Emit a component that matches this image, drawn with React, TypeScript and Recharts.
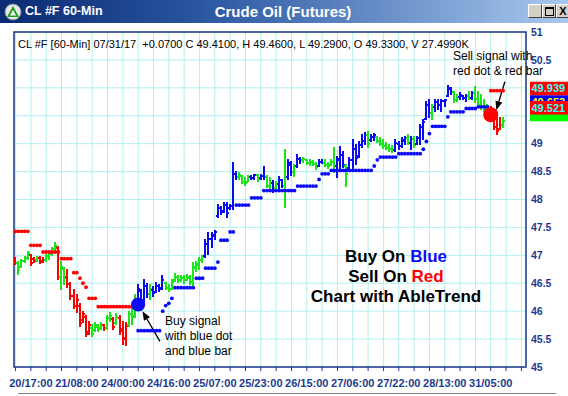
import React from 'react';
import {
  ComposedChart,
  Bar,
  Line,
  XAxis,
  YAxis,
  CartesianGrid,
  ReferenceArea,
  ReferenceLine,
} from 'recharts';

const _ = null;

const highs = [
  46.96, 46.89, 46.93, 46.98, 47.07, 47.02, 46.96, 46.98, 46.98, 46.96,
  47.02, 47.07, 47.14, 47.23, 47.16, 46.89, 46.79, 46.75, 46.52, 46.38,
  46.29, 46.13, 46.0, 45.93, 45.82, 45.77, 45.8, 45.77, 45.79, 45.77,
  45.93, 45.98, 45.89, 45.95, 45.93, 45.82, 45.8, 46.0, 46.13, 46.29,
  46.48, 46.39, 46.57, 46.5, 46.48, 46.45, 46.52, 46.48, 46.63, 46.52,
  46.48, 46.57, 46.68, 46.64, 46.63, 46.63, 46.66, 46.64, 46.88, 46.89,
  46.96, 47.0, 47.29, 47.41, 47.41, 47.45, 47.91, 47.88, 47.95, 47.95,
  47.91, 48.66, 48.5, 48.48, 48.43, 48.39, 48.43, 48.43, 48.45, 48.45,
  48.45, 48.59, 48.43, 48.39, 48.34, 48.32, 48.41, 48.36, 48.89, 48.71,
  48.68, 48.63, 48.8, 48.75, 48.75, 48.71, 48.71, 48.7, 48.66, 48.71,
  48.71, 48.71, 48.66, 48.71, 48.93, 48.77, 48.95, 48.86, 48.63, 48.75,
  49.07, 48.98, 49.04, 49.16, 49.2, 49.21, 49.16, 49.18, 49.13, 49.11,
  49.07, 49.02, 48.98, 48.96, 49.07, 49.04, 49.11, 49.13, 49.16, 49.13,
  49.13, 49.13, 49.34, 49.43, 49.75, 49.79, 49.7, 49.79, 49.79, 49.79,
  49.8, 50.05, 50.0, 49.93, 49.88, 49.91, 49.86, 49.88, 49.93, 49.93,
  50.02, 49.93, 49.88, 49.79, 49.7, 49.66, 49.57, 49.52, 49.46, 49.46,
];

const lows = [
  46.84, 46.66, 46.79, 46.88, 46.93, 46.82, 46.88, 46.89, 46.86, 46.88,
  46.89, 46.93, 47.0, 47.07, 46.57, 46.39, 46.48, 46.43, 46.21, 46.04,
  45.98, 45.73, 45.8, 45.54, 45.59, 45.55, 45.64, 45.64, 45.68, 45.66,
  45.68, 45.82, 45.68, 45.77, 45.59, 45.41, 45.38, 45.73, 45.77, 45.89,
  46.04, 46.09, 46.18, 46.25, 46.21, 46.27, 46.34, 46.36, 46.39, 46.39,
  46.36, 46.39, 46.54, 46.52, 46.54, 46.5, 46.55, 46.48, 46.45, 46.71,
  46.75, 46.88, 46.96, 47.02, 47.14, 47.29, 47.68, 47.73, 47.77, 47.68,
  47.82, 47.82, 48.36, 48.36, 48.29, 48.25, 48.32, 48.36, 48.36, 48.32,
  48.36, 48.36, 48.21, 48.14, 48.13, 48.14, 48.18, 48.21, 47.86, 48.36,
  48.43, 48.41, 48.57, 48.64, 48.66, 48.63, 48.61, 48.61, 48.54, 48.59,
  48.64, 48.59, 48.55, 48.61, 48.48, 48.39, 48.54, 48.57, 48.23, 48.54,
  48.54, 48.63, 48.75, 48.93, 48.98, 48.93, 49.04, 49.05, 49.02, 48.96,
  48.91, 48.89, 48.86, 48.84, 48.86, 48.89, 48.93, 48.98, 48.98, 48.89,
  48.93, 48.98, 48.98, 49.07, 49.43, 49.46, 49.43, 49.57, 49.61, 49.57,
  49.66, 49.84, 49.88, 49.73, 49.75, 49.79, 49.79, 49.75, 49.79, 49.79,
  49.73, 49.64, 49.61, 49.57, 49.52, 49.43, 49.25, 49.16, 49.25, 49.29,
];

const opens = [
  46.94, 46.86, 46.8, 46.9, 46.95, 47.0, 46.94, 46.91, 46.96, 46.9,
  46.92, 46.99, 47.03, 47.11, 47.14, 46.62, 46.75, 46.62, 46.48, 46.27,
  46.1, 46.1, 45.85, 45.9, 45.62, 45.7, 45.66, 45.72, 45.7, 45.75,
  45.7, 45.88, 45.86, 45.78, 45.88, 45.68, 45.52, 45.75, 45.95, 45.92,
  46.18, 46.36, 46.2, 46.45, 46.3, 46.38, 46.35, 46.45, 46.42, 46.5,
  46.42, 46.4, 46.56, 46.62, 46.56, 46.6, 46.56, 46.6, 46.52, 46.78,
  46.82, 46.92, 46.98, 47.2, 47.3, 47.35, 47.7, 47.85, 47.8, 47.9,
  47.84, 47.88, 48.45, 48.4, 48.42, 48.32, 48.32, 48.4, 48.38, 48.43,
  48.38, 48.42, 48.4, 48.25, 48.3, 48.2, 48.28, 48.35, 48.25, 48.4,
  48.62, 48.5, 48.6, 48.72, 48.7, 48.7, 48.66, 48.68, 48.64, 48.6,
  48.68, 48.66, 48.62, 48.62, 48.68, 48.6, 48.7, 48.8, 48.6, 48.56,
  48.7, 48.9, 48.78, 48.98, 49.05, 49.15, 49.06, 49.12, 49.12, 49.05,
  49.0, 48.95, 48.92, 48.9, 48.88, 49.0, 48.95, 49.05, 49.1, 49.02,
  49.08, 49.0, 49.1, 49.3, 49.45, 49.7, 49.55, 49.65, 49.75, 49.7,
  49.76, 49.86, 49.98, 49.92, 49.78, 49.84, 49.85, 49.82, 49.86, 49.82,
  49.9, 49.8, 49.7, 49.65, 49.62, 49.56, 49.48, 49.3, 49.26, 49.33,
];

const closes = [
  46.86, 46.74, 46.9, 46.95, 47.04, 46.86, 46.9, 46.96, 46.88, 46.92,
  46.99, 47.03, 47.11, 47.16, 46.62, 46.8, 46.6, 46.48, 46.27, 46.1,
  46.2, 45.78, 45.95, 45.6, 45.75, 45.6, 45.75, 45.68, 45.76, 45.7,
  45.88, 45.92, 45.72, 45.9, 45.65, 45.5, 45.74, 45.95, 45.9, 46.2,
  46.4, 46.15, 46.45, 46.3, 46.4, 46.32, 46.45, 46.4, 46.55, 46.42,
  46.4, 46.52, 46.62, 46.55, 46.6, 46.55, 46.62, 46.52, 46.8, 46.85,
  46.92, 46.97, 47.2, 47.3, 47.36, 47.42, 47.85, 47.78, 47.9, 47.75,
  47.88, 48.45, 48.4, 48.44, 48.32, 48.3, 48.4, 48.38, 48.43, 48.36,
  48.42, 48.4, 48.25, 48.3, 48.2, 48.28, 48.35, 48.25, 48.4, 48.65,
  48.5, 48.6, 48.72, 48.7, 48.72, 48.66, 48.68, 48.64, 48.58, 48.68,
  48.66, 48.62, 48.6, 48.68, 48.6, 48.72, 48.8, 48.62, 48.45, 48.7,
  48.9, 48.75, 48.98, 49.05, 49.15, 49.0, 49.12, 49.15, 49.05, 49.0,
  48.95, 48.92, 48.9, 48.88, 49.02, 48.95, 49.06, 49.1, 49.02, 49.08,
  48.98, 49.1, 49.3, 49.38, 49.7, 49.55, 49.65, 49.75, 49.7, 49.76,
  49.78, 50.0, 49.92, 49.78, 49.84, 49.88, 49.82, 49.86, 49.82, 49.9,
  49.8, 49.7, 49.65, 49.62, 49.56, 49.48, 49.3, 49.22, 49.33, 49.41,
];

// r = down trend (red), g = neutral (green), b = up trend (blue)
const barColors = (
  'rggggrrgrr' + 'ggggrggrrr' + 'rrrrrggggr' + 'ggrgrrrggg' +
  'bbbbgbbbbg' + 'gggggggggg' + 'ggbbbbbbbb' + 'bbbggggbbg' +
  'bbggbgbbgb' + 'bgbbgggggb' + 'bggggbbbgb' + 'bbbbbgbbgg' +
  'ggggbbbbgb' + 'gbbbbbgbbb' + 'bbbggbbbgb' + 'gggggrrrrg'
).split('');

const redStops = [
  47.43, 47.43, 47.43, 47.43, 47.43, 47.18, 47.18, 47.18, 47.18, 47.06,
  47.06, 47.06, 47.06, 47.06, 47.06, 46.94, 46.94, 46.94, 46.94, 46.69,
  46.69, 46.59, 46.5, 46.43, 46.23, 46.23, 46.23, 46.08, 46.08, 46.08,
  46.08, 46.08, 46.08, 46.08, 46.08, 46.08, 46.08, 46.08, 46.08, 46.08,
  _, _, _, _, _, _, _, _, _, _,
  _, _, _, _, _, _, _, _, _, _,
  _, _, _, _, _, _, _, _, _, _,
  _, _, _, _, _, _, _, _, _, _,
  _, _, _, _, _, _, _, _, _, _,
  _, _, _, _, _, _, _, _, _, _,
  _, _, _, _, _, _, _, _, _, _,
  _, _, _, _, _, _, _, _, _, _,
  _, _, _, _, _, _, _, _, _, _,
  _, _, _, _, _, _, _, _, _, _,
  _, _, _, _, _, _, _, _, _, _,
  _, _, _, _, _, 49.95, 49.95, 49.95, 49.95, 49.95,
];

const blueStops = [
  _, _, _, _, _, _, _, _, _, _,
  _, _, _, _, _, _, _, _, _, _,
  _, _, _, _, _, _, _, _, _, _,
  _, _, _, _, _, _, _, _, _, _,
  45.65, 45.65, 45.65, 45.65, 45.65, 45.65, 45.65, 45.65, 46.0, 46.1,
  46.14, 46.23, 46.42, 46.42, 46.42, 46.42, 46.42, 46.42, 46.42, 46.59,
  46.59, 46.59, 46.77, 46.77, 46.77, 46.77, 46.88, 47.27, 47.27, 47.27,
  47.42, 47.42, 47.9, 47.9, 47.9, 47.9, 47.9, 48.03, 48.03, 48.03,
  48.03, 48.16, 48.16, 48.16, 48.16, 48.16, 48.16, 48.16, 48.16, 48.16,
  48.16, 48.16, 48.24, 48.24, 48.24, 48.24, 48.24, 48.24, 48.24, 48.36,
  48.46, 48.46, 48.46, 48.52, 48.52, 48.52, 48.52, 48.52, 48.52, 48.52,
  48.52, 48.52, 48.52, 48.52, 48.52, 48.52, 48.52, 48.6, 48.71, 48.76,
  48.76, 48.76, 48.76, 48.76, 48.76, 48.82, 48.82, 48.82, 48.82, 48.82,
  48.82, 48.82, 48.82, 48.9, 49.04, 49.18, 49.31, 49.31, 49.31, 49.31,
  49.31, 49.48, 49.57, 49.57, 49.57, 49.57, 49.57, 49.63, 49.63, 49.63,
  49.63, 49.66, 49.66, 49.66, 49.66, _, _, _, _, _,
];

const tickLabels = [
  '20/17:00', '21/08:00', '24/00:00', '24/16:00', '25/07:00', '25/23:00',
  '26/15:00', '27/06:00', '27/22:00', '28/13:00', '31/05:00',
];
const tickBars = [5, 20, 35, 50, 65, 80, 95, 110, 125, 140, 155];
const gridBars = [
  0, 5, 10, 15, 20, 25, 30, 35, 40, 45, 50, 55, 60, 65, 70, 75, 80, 85,
  90, 95, 100, 105, 110, 115, 120, 125, 130, 135, 140, 145, 150, 155, 160, 165,
];
const yTicks = [45, 45.5, 46, 46.5, 47, 47.5, 48, 48.5, 49, 49.5, 50, 50.5, 51];

const buySignal = { bar: 40, price: 46.12 };
const sellSignal = { bar: 155, price: 49.52 };

const buyArrow = [{ x: 47.6, y: 45.46 }, { x: 41.9, y: 46.0 }];
const sellArrow = [{ x: 160.1, y: 50.11 }, { x: 157.3, y: 49.6 }];

// the green (last close) tag is hidden under the others in the reference, only its edge shows
const priceTagValues = [49.41, 49.653, 49.939, 49.521];
const priceTagTexts = ['', '49.653', '49.939', '49.521'];
const priceTagStyles = [
  { bg: '#00ff00', fg: '#00ff00', dy: -6.5 },
  { bg: '#0000ff', fg: '#ffff00', dy: -5.5 },
  { bg: '#ff0000', fg: '#40ffff', dy: -3 },
  { bg: '#ff0000', fg: '#40ffff', dy: -7 },
];

const COLORS: Record<string, string> = { r: '#ff0000', g: '#19e619', b: '#0a0af5' };
const FONT = "'Liberation Sans', Arial, sans-serif";
const AXIS_BLUE = '#1c3b8f';

const OhlcShape = (props: any) => {
  const { x, y, width, height, payload } = props;
  if (!payload || x == null || y == null) return null;
  const top = Math.min(y, y + height);
  const h = Math.abs(height);
  const { high, low, open, close, color } = payload;
  const range = high - low || 1;
  const yOf = (v: number) => top + ((high - v) / range) * h;
  const cx = x + width / 2;
  const col = COLORS[color];
  return (
    <g stroke={col} strokeWidth={2} shapeRendering="crispEdges">
      <line x1={cx} x2={cx} y1={top - 0.5} y2={top + h + 0.5} />
      <line x1={cx - 2} x2={cx} y1={yOf(open)} y2={yOf(open)} />
      <line x1={cx} x2={cx + 2} y1={yOf(close)} y2={yOf(close)} />
    </g>
  );
};

const ArrowShape = (p: any) => {
  const { x1, y1, x2, y2 } = p;
  if ([x1, y1, x2, y2].some((v) => typeof v !== 'number')) return null;
  const ang = Math.atan2(y2 - y1, x2 - x1);
  const L = 9;
  const W = 3.5;
  const bx = x2 - L * Math.cos(ang);
  const by = y2 - L * Math.sin(ang);
  const pts = `${x2},${y2} ${bx - W * Math.sin(ang)},${by + W * Math.cos(ang)} ${bx + W * Math.sin(ang)},${by - W * Math.cos(ang)}`;
  return (
    <g>
      <line x1={x1} y1={y1} x2={bx} y2={by} stroke="#000" strokeWidth={1.3} />
      <polygon points={pts} fill="#000" />
    </g>
  );
};

const makeTag = (i: number) => (props: any) => {
  const vb = props.viewBox || {};
  const st = priceTagStyles[i];
  const left = (vb.x ?? 14) + (vb.width ?? 512) + 4;
  const top = (vb.y ?? 0) + st.dy - 6.5;
  return (
    <g>
      <rect x={left} y={top} width={44} height={13.5} fill={st.bg} />
      {priceTagTexts[i] ? (
        <text
          x={left + 1.5}
          y={top + 10.5}
          fill={st.fg}
          fontSize={11}
          fontWeight="bold"
          fontFamily={FONT}
        >
          {priceTagTexts[i]}
        </text>
      ) : null}
    </g>
  );
};

// y-axis labels that sit under a price tag are covered in the reference
const yTickFormatter = (v: number) =>
  priceTagValues.some((p) => Math.abs(p - v) < 0.12) ? '' : String(v);

const data = highs.map((h, i) => ({
  x: i + 0.5,
  hl: [lows[i], h],
  high: h,
  low: lows[i],
  open: opens[i],
  close: closes[i],
  color: barColors[i],
  red: redStops[i],
  blue: blueStops[i],
  buy: i === buySignal.bar ? buySignal.price : null,
  sell: i === sellSignal.bar ? sellSignal.price : null,
}));

const xTickFormatter = (v: number) => {
  const idx = tickBars.indexOf(Math.round(v - 0.5));
  return idx >= 0 ? tickLabels[idx] : '';
};

const winBtn = (left: number, content: React.ReactNode) => (
  <div
    style={{
      position: 'absolute',
      left,
      top: 4,
      width: 12,
      height: 12,
      background: '#d4d0c8',
      borderTop: '1px solid #ffffff',
      borderLeft: '1px solid #ffffff',
      borderRight: '1px solid #404040',
      borderBottom: '1px solid #404040',
      display: 'flex',
      alignItems: 'center',
      justifyContent: 'center',
      fontFamily: FONT,
      fontWeight: 'bold',
      fontSize: 11,
      color: '#000',
      overflow: 'hidden',
    }}
  >
    {content}
  </div>
);

export default function App() {
  return (
    <div
      style={{
        position: 'absolute',
        left: 0,
        top: 0,
        width: 568,
        height: 396,
        background: '#ffffff',
        overflow: 'hidden',
        fontFamily: FONT,
      }}
    >
      <ComposedChart
        width={568}
        height={396}
        data={data}
        margin={{ top: 32, right: 0, bottom: 0, left: 14 }}
      >
        <CartesianGrid stroke="#b2efef" strokeWidth={1} />
        <XAxis
          dataKey="x"
          type="number"
          domain={[0, 167]}
          ticks={gridBars.map((b) => b + 0.5)}
          interval={0}
          allowDataOverflow
          height={29}
          axisLine={false}
          tickLine={{ stroke: AXIS_BLUE, strokeWidth: 1 }}
          tickSize={4}
          tickMargin={8}
          tickFormatter={xTickFormatter}
          tick={{ fill: AXIS_BLUE, fontSize: 11, fontWeight: 'bold', fontFamily: FONT }}
        />
        <YAxis
          orientation="right"
          type="number"
          domain={[45, 51]}
          ticks={yTicks}
          interval={0}
          allowDataOverflow
          width={42}
          axisLine={false}
          tickLine={false}
          tickSize={0}
          tickMargin={5}
          tickFormatter={yTickFormatter}
          tick={{ fill: AXIS_BLUE, fontSize: 10.5, fontWeight: 'bold', fontFamily: FONT, textAnchor: 'start' }}
        />
        <Bar dataKey="hl" shape={OhlcShape} isAnimationActive={false} />
        <Line
          dataKey="red"
          stroke="none"
          dot={{ r: 1.9, fill: '#ff0000', stroke: 'none' }}
          activeDot={false}
          isAnimationActive={false}
        />
        <Line
          dataKey="blue"
          stroke="none"
          dot={{ r: 1.9, fill: '#0a0af5', stroke: 'none' }}
          activeDot={false}
          isAnimationActive={false}
        />
        <Line
          dataKey="buy"
          stroke="none"
          dot={{ r: 7, fill: '#0a0af5', stroke: 'none' }}
          activeDot={false}
          isAnimationActive={false}
        />
        <Line
          dataKey="sell"
          stroke="none"
          dot={{ r: 7.5, fill: '#ff0000', stroke: 'none' }}
          activeDot={false}
          isAnimationActive={false}
        />
        <ReferenceArea
          x1={0}
          x2={167}
          y1={45}
          y2={51}
          fill="none"
          stroke="#1a3a86"
          strokeWidth={1.5}
          ifOverflow="visible"
        />
        <ReferenceLine segment={buyArrow} shape={ArrowShape} ifOverflow="visible" />
        <ReferenceLine segment={sellArrow} shape={ArrowShape} ifOverflow="visible" />
        {priceTagValues.map((v, i) => (
          <ReferenceLine key={i} y={v} stroke="none" label={makeTag(i)} />
        ))}
      </ComposedChart>

      {/* title bar */}
      <div
        style={{
          position: 'absolute',
          left: 0,
          top: 0,
          width: 568,
          height: 23,
          background: 'linear-gradient(to right, #0a2a72 0%, #2a55a0 35%, #a8c9ef 100%)',
        }}
      >
        <svg width={18} height={18} style={{ position: 'absolute', left: 4, top: 3 }}>
          <circle cx={9} cy={9} r={8} fill="#e8e8e8" stroke="#7a8a9a" strokeWidth={1} />
          <polygon points="9,3 15,14 3,14" fill="#1aa01a" />
          <polygon points="9,7 12,12.5 6,12.5" fill="#ffffff" />
        </svg>
        <div
          style={{
            position: 'absolute',
            left: 25,
            top: 4,
            color: '#fff',
            fontWeight: 'bold',
            fontSize: 12.5,
            whiteSpace: 'nowrap',
          }}
        >
          CL #F 60-Min
        </div>
        <div
          style={{
            position: 'absolute',
            left: 183,
            width: 200,
            top: 3,
            textAlign: 'center',
            color: '#fff',
            fontWeight: 'bold',
            fontSize: 15,
            whiteSpace: 'nowrap',
          }}
        >
          Crude Oil (Futures)
        </div>
        {winBtn(528, <span style={{ marginTop: 2 }}>_</span>)}
        {winBtn(542, <div style={{ width: 7, height: 6, border: '1px solid #000', borderTopWidth: 2 }} />)}
        {winBtn(556, <span>X</span>)}
      </div>

      {/* header info line */}
      <div
        style={{
          position: 'absolute',
          left: 18,
          top: 38,
          fontSize: 11,
          color: '#000',
          whiteSpace: 'nowrap',
        }}
      >
        CL #F [60-Min] 07/31/17&nbsp;&nbsp;+0.0700 C 49.4100, H 49.4600, L 49.2900, O 49.3300, V 27.4990K
      </div>

      {/* sell annotation */}
      <div
        style={{
          position: 'absolute',
          left: 453,
          top: 49,
          fontSize: 12,
          lineHeight: '15px',
          color: '#000',
          whiteSpace: 'nowrap',
        }}
      >
        Sell signal with
        <br />
        red dot &amp; red bar
      </div>

      {/* buy annotation */}
      <div
        style={{
          position: 'absolute',
          left: 165,
          top: 314,
          fontSize: 12,
          lineHeight: '15px',
          color: '#000',
          whiteSpace: 'nowrap',
        }}
      >
        Buy signal
        <br />
        with blue dot
        <br />
        and blue bar
      </div>

      {/* legend text */}
      <div
        style={{
          position: 'absolute',
          left: 286,
          width: 220,
          top: 247,
          textAlign: 'center',
          fontSize: 17,
          fontWeight: 'bold',
          lineHeight: '20px',
          color: '#000',
          whiteSpace: 'nowrap',
        }}
      >
        <div>
          Buy On <span style={{ color: '#0a0af5' }}>Blue</span>
        </div>
        <div>
          Sell On <span style={{ color: '#ff0000' }}>Red</span>
        </div>
        <div>Chart with AbleTrend</div>
      </div>

      {/* bottom frame line */}
      <div
        style={{
          position: 'absolute',
          left: 18,
          top: 393,
          width: 538,
          height: 1,
          background: '#808080',
        }}
      />
    </div>
  );
}
